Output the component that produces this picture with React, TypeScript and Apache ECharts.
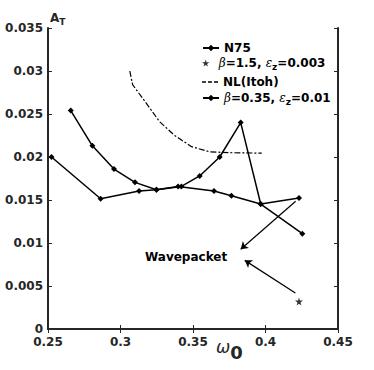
import React, { useEffect, useRef } from "react";
import * as echarts from "echarts";

const n75X = [0.2657, 0.2806, 0.2955, 0.31, 0.3248, 0.342, 0.3546, 0.3684, 0.3829, 0.3967, 0.4231];
const n75Y = [0.0254, 0.0213, 0.0186, 0.01705, 0.0162, 0.01658, 0.0178, 0.02, 0.024, 0.01453, 0.01523];
const b035X = [0.2524, 0.2863, 0.3128, 0.3248, 0.3397, 0.3645, 0.3765, 0.3967, 0.4254];
const b035Y = [0.02, 0.01515, 0.01605, 0.0162, 0.01658, 0.01605, 0.0155, 0.01453, 0.01108];
const nlX = [0.3064, 0.3084, 0.3167, 0.327, 0.3374, 0.349, 0.3615, 0.3753, 0.3974];
const nlY = [0.03, 0.0284, 0.0265, 0.0241, 0.0225, 0.0212, 0.0206, 0.0205, 0.02045];
const b15X = [0.4231];
const b15Y = [0.0032];
const arrow1 = [[0.4208, 0.01486], [0.3829, 0.00928]];
const arrow2 = [[0.4206, 0.00419], [0.3857, 0.00798]];

const seriesNames = ["N75", "β=1.5, ε_z=0.003", "NL(Itoh)", "β=0.35, ε_z=0.01"];
const legendLabels: Record<string, string> = {
  "N75": "N75",
  "β=1.5, ε_z=0.003": "{g|β}=1.5, {g|ε}{s|z}=0.003",
  "NL(Itoh)": "NL(Itoh)",
  "β=0.35, ε_z=0.01": "{g|β}=0.35, {g|ε}{s|z}=0.01",
};
const legendRows = [44, 59, 78, 94];

const zip = (xs: number[], ys: number[]) => xs.map((x, i) => [x, ys[i]]);
const STAR = "path://M50,0 L61,35 L98,35 L68,57 L79,91 L50,70 L21,91 L32,57 L2,35 L39,35 Z";
const DASH_ICON = "path://M0,0 H4 V1.4 H0 Z M6,0 H10 V1.4 H6 Z M12,0 H16 V1.4 H12 Z";
const AX = "#262626";
const FONT = "DejaVu Sans";

export default function App() {
  const ref = useRef<HTMLDivElement>(null);
  useEffect(() => {
    if (!ref.current) return;
    const chart = echarts.init(ref.current, null, { renderer: "svg" });
    const axisLine = { show: true, lineStyle: { color: AX, width: 2 } };
    const axisTick = { show: true, inside: true, length: 4, lineStyle: { color: AX, width: 1 } };
    const richLegend = {
      g: { fontFamily: "DejaVu Serif", fontStyle: "italic", fontWeight: "normal", fontSize: 12, color: "#000" },
      s: { fontFamily: FONT, fontWeight: "bold", fontSize: 9, color: "#000", padding: [8, 0, 0, 0] },
    };
    const legends = seriesNames.map((n, i) => ({
      data: [i === 2 ? { name: n, icon: DASH_ICON } : n],
      left: 197,
      top: legendRows[i] - 7,
      itemWidth: 16,
      itemHeight: i === 1 ? 7 : i === 2 ? 1.4 : 8,
      formatter: (name: string) => legendLabels[name],
      textStyle: { fontFamily: FONT, fontWeight: "bold", fontSize: 12, color: "#000", rich: richLegend },
      selectedMode: false,
    }));
    const labelStyle = { fontFamily: FONT, fontWeight: "bold", fontSize: 12, lineHeight: 11, color: AX };
    chart.setOption({
      animation: false,
      backgroundColor: "#fff",
      grid: { left: 48, top: 28, width: 290, height: 301 },
      legend: legends,
      xAxis: [
        {
          type: "value",
          min: 0.25,
          max: 0.45,
          interval: 0.05,
          position: "bottom",
          axisLine,
          axisTick,
          splitLine: { show: false },
          axisLabel: { ...labelStyle, margin: 7 },
        },
        {
          type: "value",
          min: 0.25,
          max: 0.45,
          interval: 0.05,
          position: "top",
          axisLine,
          axisTick,
          splitLine: { show: false },
          axisLabel: { show: false },
        },
      ],
      yAxis: [
        {
          type: "value",
          min: 0,
          max: 0.035,
          interval: 0.005,
          position: "left",
          axisLine,
          axisTick,
          splitLine: { show: false },
          axisLabel: { ...labelStyle, margin: 5 },
        },
        {
          type: "value",
          min: 0,
          max: 0.035,
          interval: 0.005,
          position: "right",
          axisLine,
          axisTick,
          splitLine: { show: false },
          axisLabel: { show: false },
        },
      ],
      series: [
        {
          name: seriesNames[0],
          type: "line",
          data: zip(n75X, n75Y),
          symbol: "diamond",
          symbolSize: 6,
          itemStyle: { color: "#000" },
          lineStyle: { color: "#000", width: 1.5 },
        },
        {
          name: seriesNames[1],
          type: "scatter",
          data: zip(b15X, b15Y),
          symbol: STAR,
          symbolSize: 8,
          itemStyle: { color: "#000" },
          markLine: {
            silent: true,
            symbol: ["none", "arrow"],
            symbolSize: 7,
            label: { show: false },
            lineStyle: { color: "#000", width: 1.2, type: "solid" },
            data: [
              [{ coord: arrow1[0] }, { coord: arrow1[1] }],
              [{ coord: arrow2[0] }, { coord: arrow2[1] }],
            ],
          },
        },
        {
          name: seriesNames[2],
          type: "line",
          data: zip(nlX, nlY),
          symbol: "none",
          itemStyle: { color: "#000" },
          lineStyle: { color: "#000", width: 1.2, type: [6, 2, 2, 2] },
        },
        {
          name: seriesNames[3],
          type: "line",
          data: zip(b035X, b035Y),
          symbol: "diamond",
          symbolSize: 6,
          itemStyle: { color: "#000" },
          lineStyle: { color: "#000", width: 1.5 },
        },
      ],
      graphic: [
        {
          type: "text",
          left: 145,
          top: 251,
          style: { text: "Wavepacket", fontFamily: FONT, fontWeight: "bold", fontSize: 12, fill: "#000" },
        },
        {
          type: "text",
          left: 50,
          top: 12,
          style: {
            text: "{a|A}{t|T}",
            rich: {
              a: { fontFamily: FONT, fontWeight: "bold", fontSize: 12, fill: AX },
              t: { fontFamily: FONT, fontWeight: "bold", fontSize: 9, fill: AX, padding: [7, 0, 0, 0] },
            },
          },
        },
        {
          type: "text",
          left: 216,
          top: 338,
          style: {
            text: "{w|ω}{z|0}",
            rich: {
              w: { fontFamily: FONT, fontStyle: "italic", fontSize: 17, fill: AX },
              z: { fontFamily: FONT, fontWeight: "bold", fontSize: 18, fill: AX, padding: [12, 0, 0, 0] },
            },
          },
        },
      ],
    });
    return () => chart.dispose();
  }, []);
  return <div ref={ref} style={{ position: "fixed", left: 0, top: 0, width: 374, height: 370 }} />;
}
